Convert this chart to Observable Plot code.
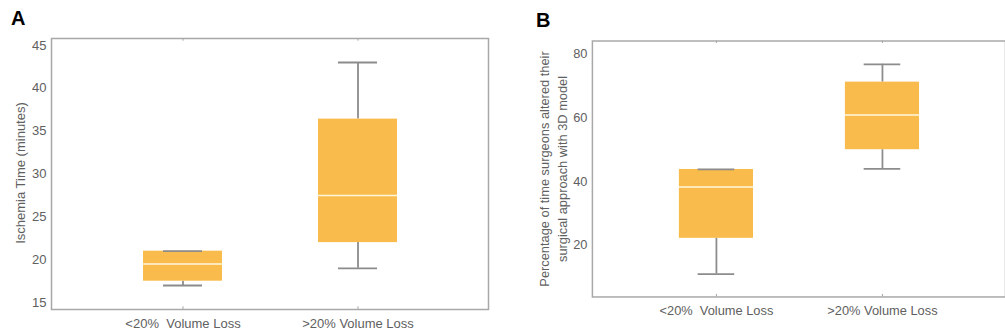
<!DOCTYPE html>
<html>
<head>
<meta charset="utf-8">
<script src="https://cdn.jsdelivr.net/npm/d3@7"></script>
<script src="https://cdn.jsdelivr.net/npm/@observablehq/plot@0.6"></script>
<style>
  html, body { margin: 0; padding: 0; background: #fff; width: 1005px; height: 335px; overflow: hidden; }
  #wrap { position: relative; width: 1005px; height: 335px; overflow: hidden; font-family: "Liberation Sans", Arial, sans-serif; }
  .panel { position: absolute; top: 0; }
  .letter { position: absolute; font-family: "Liberation Sans", Arial, sans-serif; font-weight: bold; font-size: 20px; color: #000; }
</style>
</head>
<body>
<div id="wrap">
  <div class="letter" style="left:11px;top:7px;">A</div>
  <div class="letter" style="left:536px;top:9px;">B</div>
  <div id="pa" class="panel" style="left:0px;"></div>
  <div id="pb" class="panel" style="left:500px;"></div>
</div>
<script>
// ---- data ----
const categories = ["<20%\u00a0 Volume Loss", ">20% Volume Loss"];

// Panel A: Ischemia time (minutes)
const ischemiaMin    = [17, 19];
const ischemiaQ1     = [17.5, 22];
const ischemiaMedian = [19.5, 27.5];
const ischemiaQ3     = [21, 36.4];
const ischemiaMax    = [21, 43];
const ischemiaTicks  = [15, 20, 25, 30, 35, 40, 45];

// Panel B: percentage of time surgeons altered approach
const alteredMin    = [11, 44];
const alteredQ1     = [22.2, 50];
const alteredMedian = [38.3, 60.9];
const alteredQ3     = [43.8, 71.2];
const alteredMax    = [43.8, 76.8];
const alteredTicks  = [20, 40, 60, 80];

const boxFill = "#F9BB4B";
const whisker = "#8c8c8c";
const frameCol = "#a8a8a8";
const textCol = "#606060";

function rows(mn, q1, md, q3, mx) {
  return categories.map((c, i) => ({cat: c, min: mn[i], q1: q1[i], median: md[i], q3: q3[i], max: mx[i]}));
}

function boxChart({data, width, marginLeft, marginRight, marginTop, marginBottom, domain, ticks, padIn, padOut, capInset}) {
  const span = domain[1] - domain[0];
  return Plot.plot({
    width, height: 335,
    marginLeft, marginRight, marginTop, marginBottom,
    style: {fontFamily: "'Liberation Sans', Arial, sans-serif", fontSize: "13px", color: textCol, background: "transparent"},
    x: {domain: categories, paddingInner: padIn, paddingOuter: padOut, label: null},
    y: {domain, label: null},
    marks: [
      Plot.frame({stroke: frameCol, strokeWidth: 1.5}),
      Plot.axisY({ticks, tickSize: 0, tickPadding: 5, fontSize: 13, label: null}),
      Plot.axisX({tickSize: 0, tickPadding: 9, fontSize: 13, label: null}),
      Plot.ruleX(data, {x: "cat", y1: domain[1], y2: domain[1] - span*0.01, stroke: frameCol}),
      Plot.ruleX(data, {x: "cat", y1: domain[0], y2: domain[0] + span*0.01, stroke: frameCol}),
      Plot.ruleX(data, {x: "cat", y1: "q3", y2: "max", stroke: whisker, strokeWidth: 1.8}),
      Plot.ruleX(data, {x: "cat", y1: "min", y2: "q1", stroke: whisker, strokeWidth: 1.8}),
      Plot.barY(data, {x: "cat", y1: "q1", y2: "q3", fill: boxFill}),
      Plot.tickY(data, {x: "cat", y: "max", stroke: whisker, strokeWidth: 1.8, insetLeft: capInset, insetRight: capInset}),
      Plot.tickY(data, {x: "cat", y: "min", stroke: whisker, strokeWidth: 1.8, insetLeft: capInset, insetRight: capInset}),
      Plot.tickY(data, {x: "cat", y: "median", stroke: "#FFF6DC", strokeWidth: 1.6})
    ]
  });
}

const svgA = boxChart({
  data: rows(ischemiaMin, ischemiaQ1, ischemiaMedian, ischemiaQ3, ischemiaMax),
  width: 500, marginLeft: 51, marginRight: 12, marginTop: 38, marginBottom: 26,
  domain: [14.2, 45.8], ticks: ischemiaTicks, padIn: 0.55, padOut: 0.517,
  capInset: 20
});
const svgB = boxChart({
  data: rows(alteredMin, alteredQ1, alteredMedian, alteredQ3, alteredMax),
  width: 511, marginLeft: 93, marginRight: 0, marginTop: 41, marginBottom: 35,
  domain: [3.8, 84.1], ticks: alteredTicks, padIn: 0.555, padOut: 0.519,
  capInset: 19
});

// y-axis titles as real text inside the SVGs
function addTitle(svg, lines, cx, cy) {
  const s = d3.select(svg);
  const t = s.append("text")
    .attr("transform", `translate(${cx},${cy}) rotate(-90)`)
    .attr("text-anchor", "middle")
    .attr("fill", textCol)
    .attr("font-family", "'Liberation Sans', Arial, sans-serif")
    .attr("font-size", 13);
  lines.forEach((ln, i) => {
    t.append("tspan").attr("x", 0).attr("dy", i === 0 ? 0 : 18).text(ln);
  });
}
addTitle(svgA, ["Ischemia Time (minutes)"], 25, 173);
addTitle(svgB, ["Percentage of time surgeons altered their", "surgical approach with 3D model"], 50, 171);

document.getElementById("pa").appendChild(svgA);
document.getElementById("pb").appendChild(svgB);
</script>
</body>
</html>
